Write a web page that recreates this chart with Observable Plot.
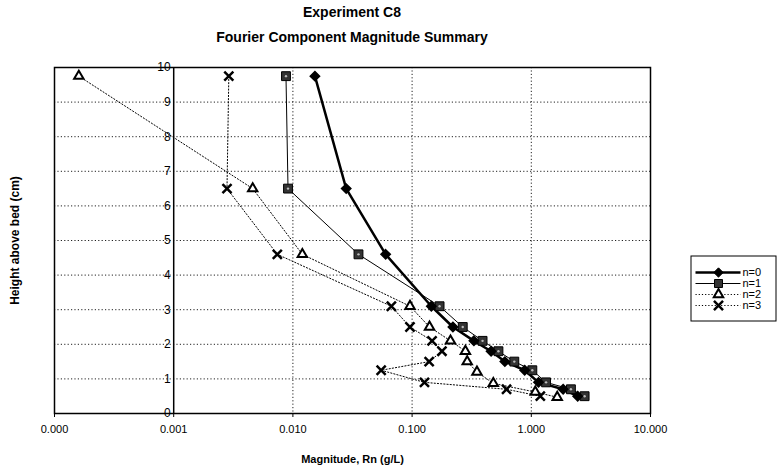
<!DOCTYPE html>
<html><head><meta charset="utf-8">
<script src="https://cdn.jsdelivr.net/npm/d3@7"></script>
<script src="https://cdn.jsdelivr.net/npm/@observablehq/plot@0.6"></script>
<style>
body{margin:0;background:#fff;font-family:"Liberation Sans",Arial,sans-serif;}
#wrap{position:relative;width:779px;height:475px;overflow:hidden;}
#title{position:absolute;left:0;top:0;width:704px;text-align:center;font-weight:bold;font-size:14px;line-height:25px;color:#000;}
#chart{position:absolute;left:0;top:50px;}
#legend{position:absolute;left:690px;top:255px;}
</style></head>
<body>
<div id="wrap">
  <div id="title">Experiment C8<br>Fourier Component Magnitude Summary</div>
  <div id="chart"></div>
  <div id="legend"></div>
</div>
<script>
const heights = [9.75, 6.5, 4.6, 3.1, 2.5, 2.1, 1.8, 1.5, 1.25, 0.9, 0.7, 0.5];
const heightsN2 = [9.75, 6.5, 4.6, 3.1, 2.5, 2.1, 1.8, 1.5, 1.2, 0.87, 0.62, 0.47];
const n0 = [0.0153, 0.028, 0.06, 0.145, 0.22, 0.33, 0.46, 0.6, 0.88, 1.15, 1.85, 2.45];
const n1 = [0.00875, 0.0091, 0.0355, 0.17, 0.266, 0.39, 0.53, 0.72, 1.02, 1.33, 2.15, 2.8];
const n2 = [0.00016, 0.0046, 0.012, 0.096, 0.14, 0.21, 0.28, 0.29, 0.35, 0.48, 1.08, 1.65];
const n3 = [0.0029, 0.0028, 0.0074, 0.067, 0.096, 0.147, 0.178, 0.139, 0.055, 0.127, 0.62, 1.19];
const seriesNames = ["n=0", "n=1", "n=2", "n=3"];
const xTicks = [0.0001, 0.001, 0.01, 0.1, 1, 10];
const yTicks = [0, 1, 2, 3, 4, 5, 6, 7, 8, 9, 10];

const mk = (xs, hs) => xs.map((x, i) => ({x, y: hs[i]}));
const d0 = mk(n0, heights), d1 = mk(n1, heights), d2 = mk(n2, heightsN2), d3s = mk(n3, heights);

const chart = Plot.plot({
  width: 779, height: 425,
  marginLeft: 54, marginRight: 129, marginTop: 17, marginBottom: 62,
  style: {fontFamily: '"Liberation Sans", Arial, sans-serif', color: "#000", background: "#fff"},
  x: {type: "log", domain: [0.0001, 10]},
  y: {domain: [0, 10], axis: null},
  marks: [
    Plot.ruleY(yTicks.slice(1, 10), {stroke: "#222", strokeWidth: 1, strokeDasharray: "1.2,2.2"}),
    Plot.ruleX([0.01, 0.1, 1], {stroke: "#222", strokeWidth: 1, strokeDasharray: "1.2,2.2"}),
    Plot.ruleX([0.001], {stroke: "#000", strokeWidth: 1.5}),
    Plot.frame({stroke: "#000", strokeWidth: 1.5}),
    Plot.text(yTicks, {x: () => 0.001, y: d => d, text: d => String(d), textAnchor: "end", dx: -3, fontSize: 12}),
    Plot.axisX({ticks: xTicks, tickFormat: d3.format(".3f"), tickSize: 4, tickPadding: 8, fontSize: 11, label: null}),
    Plot.text(["Magnitude, Rn (g/L)"], {frameAnchor: "bottom", dy: 49, fontWeight: "bold", fontSize: 11}),
    Plot.text(["Height above bed (cm)"], {x: () => 0.0001, y: () => 5, rotate: -90, dx: -39, fontWeight: "bold", fontSize: 12}),
    Plot.line(d3s, {x: "x", y: "y", stroke: "#000", strokeWidth: 1, strokeDasharray: "1.2,2"}),
    Plot.line(d2, {x: "x", y: "y", stroke: "#000", strokeWidth: 1, strokeDasharray: "1.2,2"}),
    Plot.line(d1, {x: "x", y: "y", stroke: "#000", strokeWidth: 1}),
    Plot.line(d0, {x: "x", y: "y", stroke: "#000", strokeWidth: 2.5}),
    Plot.dot(d3s, {x: "x", y: "y", symbol: "times", r: 4.2, stroke: "#000", strokeWidth: 2.5}),
    Plot.dot(d2, {x: "x", y: "y", symbol: "triangle", r: 3.5, fill: "#fff", stroke: "#000", strokeWidth: 2}),
    Plot.dot(d1, {x: "x", y: "y", symbol: "square", r: 5, fill: "#333", stroke: "#000", strokeWidth: 1}),
    Plot.dot(d1, {x: "x", y: "y", r: 1.2, fill: "#bbb", stroke: null}),
    Plot.dot(d0, {x: "x", y: "y", symbol: "diamond2", r: 4.2, fill: "#000", stroke: "#000"})
  ]
});
document.getElementById("chart").append(chart);

const legendData = seriesNames.map((name, i) => ({name, i}));
const styles = [
  {strokeWidth: 2.5, dash: null, symbol: "diamond2", fill: "#000", sw: 1, r: 4.2},
  {strokeWidth: 1, dash: null, symbol: "square", fill: "#333", sw: 1, r: 4.5},
  {strokeWidth: 1, dash: "1.2,2", symbol: "triangle", fill: "#fff", sw: 2, r: 3.5},
  {strokeWidth: 1, dash: "1.2,2", symbol: "times", fill: "none", sw: 2.5, r: 4.2}
];
const legend = Plot.plot({
  width: 86, height: 66,
  margin: 0,
  style: {fontFamily: '"Liberation Sans", Arial, sans-serif', color: "#000", background: "#fff", overflow: "visible"},
  x: {domain: [0, 86], range: [0, 86], axis: null},
  y: {domain: seriesNames, type: "point", range: [10, 57], axis: null},
  marks: [
    Plot.frame({stroke: "#000", strokeWidth: 1, inset: 0.5}),
    ...legendData.map(d => Plot.link([d], {x1: () => 5, x2: () => 50, y1: "name", y2: "name", stroke: "#000", strokeWidth: styles[d.i].strokeWidth, strokeDasharray: styles[d.i].dash})),
    ...legendData.map(d => Plot.dot([d], {x: () => 28, y: "name", symbol: styles[d.i].symbol, r: styles[d.i].r, fill: styles[d.i].fill, stroke: "#000", strokeWidth: styles[d.i].sw})),
    Plot.text(legendData, {x: () => 52, y: "name", text: "name", textAnchor: "start", fontSize: 11})
  ]
});
document.getElementById("legend").append(legend);
</script>
</body></html>
